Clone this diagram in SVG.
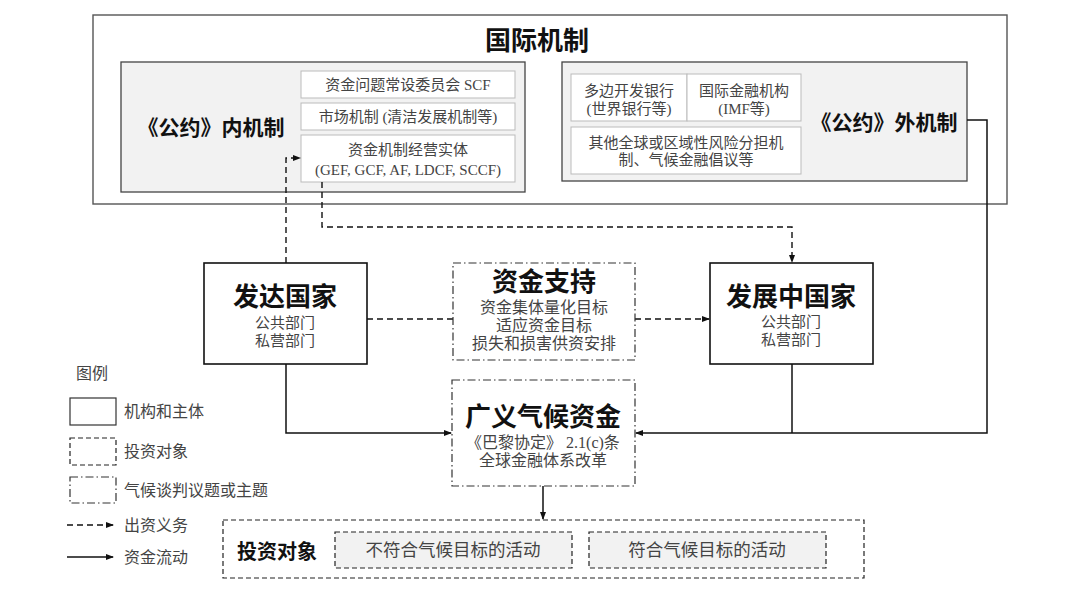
<svg xmlns="http://www.w3.org/2000/svg" width="1080" height="608" viewBox="0 0 1080 608">
<style>
text{font-family:"Liberation Serif","Noto Sans CJK SC",serif;text-anchor:middle;dominant-baseline:central}
.title{font-weight:bold;fill:#111;font-family:"Liberation Serif","Noto Sans CJK SC",serif}
.big{font-size:26px;font-weight:bold;fill:#111}
.sm{font-size:15px;fill:#444}
.md{font-size:16px;fill:#444}
.leg{font-size:16px;fill:#444;text-anchor:start}
.inner{fill:#f2f2f2;stroke:#444;stroke-width:1.3}
.sub{fill:#fff;stroke:#bbb;stroke-width:1}
.solid{fill:#fff;stroke:#111;stroke-width:1.6}
.dashbox{fill:#fff;stroke:#222;stroke-width:1.2;stroke-dasharray:5 3}
.dashgray{fill:#f2f2f2;stroke:#222;stroke-width:1.2;stroke-dasharray:5 3}
.dashdot{fill:#fff;stroke:#333;stroke-width:1.2;stroke-dasharray:8 3 1.5 3}
.flow{fill:none;stroke:#111;stroke-width:1.5}
.oblig{fill:none;stroke:#111;stroke-width:1.4;stroke-dasharray:6 4}
</style>
<defs>
<marker id="ah" markerWidth="8" markerHeight="8" refX="7" refY="4" orient="auto" markerUnits="userSpaceOnUse">
<path d="M0,1 L8,4 L0,7 Z" fill="#111"/>
</marker>
</defs>
<rect width="1080" height="608" fill="#fff"/>

<g id="intl">
<rect x="93" y="15" width="914" height="189" fill="#fff" stroke="#555" stroke-width="1.4"/>
<text x="537" y="41" class="title" font-size="26">国际机制</text>
</g>

<g id="inner-mech">
<rect x="121" y="62" width="404" height="130" class="inner"/>
<text x="211" y="128" class="title" font-size="21">《公约》内机制</text>
</g>
<g id="scf">
<rect x="301" y="71" width="214" height="27" class="sub"/>
<text x="408" y="85" class="sm">资金问题常设委员会 SCF</text>
</g>
<g id="market">
<rect x="301" y="103" width="214" height="27" class="sub"/>
<text x="408" y="117" class="sm">市场机制 (清洁发展机制等)</text>
</g>
<g id="entities">
<rect x="301" y="135" width="214" height="47" class="sub"/>
<text x="408" y="150" class="sm">资金机制经营实体</text>
<text x="408" y="170" class="sm">(GEF, GCF, AF, LDCF, SCCF)</text>
</g>

<g id="outer-mech">
<rect x="562" y="62" width="405" height="119" class="inner"/>
<text x="884" y="123" class="title" font-size="21">《公约》外机制</text>
</g>
<g id="mdb">
<rect x="571" y="74" width="116" height="47" class="sub"/>
<text x="629" y="91" class="sm">多边开发银行</text>
<text x="629" y="109" class="sm">(世界银行等)</text>
</g>
<g id="ifi">
<rect x="687" y="74" width="114" height="47" class="sub"/>
<text x="744" y="91" class="sm">国际金融机构</text>
<text x="744" y="109" class="sm">(IMF等)</text>
</g>
<g id="other">
<rect x="571" y="127" width="230" height="47" class="sub"/>
<text x="686" y="143" class="sm">其他全球或区域性风险分担机</text>
<text x="686" y="160" class="sm">制、气候金融倡议等</text>
</g>

<g id="connectors">
<path d="M286,263 V158 H300" class="oblig" marker-end="url(#ah)"/>
<path d="M322,182 V227 H792 V262" class="oblig" marker-end="url(#ah)"/>
<path d="M367,319 H453" class="oblig"/>
<path d="M635,319 H709" class="oblig" marker-end="url(#ah)"/>
<path d="M286,364 V433 H451" class="flow" marker-end="url(#ah)"/>
<path d="M967,120 H987 V433 H636" class="flow" marker-end="url(#ah)"/>
<path d="M792,364 V433" class="flow"/>
<path d="M543,486 V519" class="flow" marker-end="url(#ah)"/>
</g>

<g id="developed">
<rect x="204" y="263" width="163" height="101" class="solid"/>
<text x="285" y="297" class="big">发达国家</text>
<text x="285" y="323" class="sm">公共部门</text>
<text x="285" y="341" class="sm">私营部门</text>
</g>
<g id="support">
<rect x="453" y="263" width="182" height="97" class="dashdot"/>
<text x="544" y="282" class="big">资金支持</text>
<text x="544" y="307" class="md">资金集体量化目标</text>
<text x="544" y="325" class="md">适应资金目标</text>
<text x="544" y="343" class="md">损失和损害供资安排</text>
</g>
<g id="developing">
<rect x="710" y="263" width="163" height="101" class="solid"/>
<text x="791" y="297" class="big">发展中国家</text>
<text x="791" y="322" class="sm">公共部门</text>
<text x="791" y="340" class="sm">私营部门</text>
</g>
<g id="broad">
<rect x="452" y="380" width="183" height="106" class="dashdot"/>
<text x="543" y="417" class="big">广义气候资金</text>
<text x="543" y="442" class="md">《巴黎协定》 2.1(c)条</text>
<text x="543" y="460" class="md">全球金融体系改革</text>
</g>
<g id="invest">
<rect x="223" y="520" width="641" height="58" class="dashbox"/>
<text x="277" y="552" class="title" font-size="20">投资对象</text>
</g>
<g id="nonaligned">
<rect x="335" y="532" width="237" height="36" class="dashgray"/>
<text x="453" y="550" font-size="17.5" fill="#444">不符合气候目标的活动</text>
</g>
<g id="aligned">
<rect x="589" y="532" width="237" height="36" class="dashgray"/>
<text x="707" y="550" font-size="17.5" fill="#444">符合气候目标的活动</text>
</g>

<g id="legend">
<text x="76" y="373" class="leg">图例</text>
<rect x="70" y="398" width="46" height="27" fill="#fff" stroke="#333" stroke-width="1.2"/>
<text x="124" y="411" class="leg">机构和主体</text>
<rect x="70" y="438" width="46" height="27" class="dashbox"/>
<text x="124" y="451" class="leg">投资对象</text>
<rect x="70" y="477" width="46" height="26" class="dashdot"/>
<text x="124" y="490" class="leg">气候谈判议题或主题</text>
<path d="M67,525 H113" class="oblig" stroke-dasharray="5 3" marker-end="url(#ah)"/>
<text x="124" y="525" class="leg">出资义务</text>
<path d="M67,557 H113" class="flow" marker-end="url(#ah)"/>
<text x="124" y="557" class="leg">资金流动</text>
</g>
</svg>
